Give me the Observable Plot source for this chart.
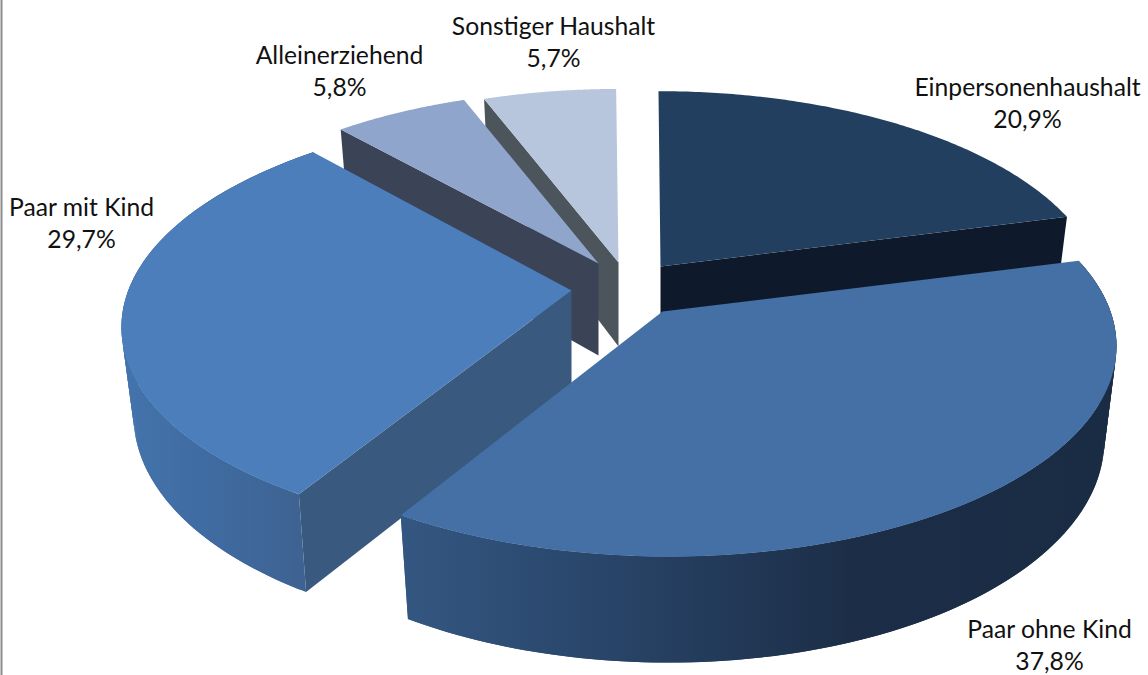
<!DOCTYPE html>
<html><head><meta charset="utf-8">
<style>html,body{margin:0;padding:0;background:#fff;overflow:hidden}svg{display:block}</style>
<script src="https://cdn.jsdelivr.net/npm/d3@7"></script>
<script src="https://cdn.jsdelivr.net/npm/@observablehq/plot@0.6"></script>
</head><body><div id="chart"></div>
<script>
// Data, clockwise from twelve o'clock
const categories = ["Einpersonenhaushalt","Paar ohne Kind","Paar mit Kind","Alleinerziehend","Sonstiger Haushalt"];
const shares = [20.9,37.8,29.7,5.8,5.7];

// Layout of each exploded slice: apex position, radius factor, extrusion depth, lean
const apexX = [660,662,571,598,618];
const ellipseX = [662,665,572,598,618];
const apexY = [266,311,290,263,262];
const radius = [0.98,1,1,0.97,0.97];
const depth = [90,92,86,92,84];
const apexDepth = [90,92,95,92,84];
const lean = [4,3,-8,0,0];
const topColors = ["#233f60","#4570a6","#4b7eba","#8fa5cc","#b8c6dd"];
const faceColors = ["#0e1a2b","#1a2c44","#39597f","#3b4356","#4c545c"];
const rimGradients = {
  ohne:[[400,"#345781"],[500,"#2e4e76"],[700,"#243c5c"],[850,"#1c2e47"],[1116,"#1a2c44"]],
  mit:[[122,"#4474ac"],[200,"#3f6ca2"],[310,"#3e6291"]]
};
const labelX = [1027,1049,81,339,553];
const labelY = [101,643,221,69,40];
const drawOrder = [0,4,3,2,1];

// Perspective pie geometry
const A = 451, B = 212, C = 0.156, K = Math.sqrt(1 - C * C), BASE = 0.973;
const ends = Array.from(d3.cumsum(shares));
const turn = p => p / 100 * 2 * Math.PI;
const rimPoint = (i, t, low) => {
  const u = Math.sin(t), v = Math.cos(t), w = 1 + C * v;
  const X = u * K / w, Y = -(v + C) / w;
  const r = radius[i];
  if (!low) return {x: ellipseX[i] + r * A * X + lean[i] * Y, y: apexY[i] + r * B * (Y + C)};
  return {x: ellipseX[i] + r * A * X * BASE + lean[i] * Y, y: apexY[i] + r * B * (Y + C) + depth[i] + 2 + 12 * r * Y};
};
const arc = (i, t0, t1, low) => d3.range(0, 121).map(k => rimPoint(i, t0 + (t1 - t0) * k / 120, low));
const apexTop = i => ({x: apexX[i], y: apexY[i]});
const apexLow = i => ({x: apexX[i], y: apexY[i] + apexDepth[i]});

// Rim as overlapping quads so that the silhouette between top and base is filled
const rimQuads = (i, t0, t1) => {
  const a = arc(i, t0, t1, false), b = arc(i, t0, t1, true), out = [];
  for (let k = 0; k < a.length - 1; ++k) {
    const n = Math.min(k + 2, a.length - 1);
    for (const p of [a[k], a[n], b[n], b[k]]) out.push({...p, q: k});
  }
  return out;
};

const marks = [];
for (const i of drawOrder) {
  const t0 = turn(i ? ends[i - 1] : 0), t1 = turn(ends[i]);
  if (i !== 1) {
    const t = i === 0 ? t1 : t0;
    const pts = [apexTop(i), rimPoint(i, t, false), rimPoint(i, t, true), apexLow(i)];
    marks.push(Plot.line(pts, {x: "x", y: "y", fill: faceColors[i], stroke: "none", curve: "linear-closed"}));
  }
  if (i === 1 || i === 2) {
    const id = i === 1 ? "url(#rim-ohne)" : "url(#rim-mit)";
    marks.push(Plot.line(rimQuads(i, t0, t1), {x: "x", y: "y", z: "q", fill: id, stroke: "none", curve: "linear-closed"}));
  }
  marks.push(Plot.line([apexTop(i), ...arc(i, t0, t1, false)], {x: "x", y: "y", fill: topColors[i], stroke: "none", curve: "linear-closed"}));
}

const gradientDefs = () => {
  const defs = d3.create("svg:defs");
  for (const [name, stops] of Object.entries(rimGradients)) {
    const x0 = stops[0][0], x1 = stops[stops.length - 1][0];
    const g = defs.append("linearGradient").attr("id", "rim-" + name)
      .attr("gradientUnits", "userSpaceOnUse")
      .attr("x1", x0).attr("x2", x1).attr("y1", 0).attr("y2", 0);
    for (const [x, c] of stops) g.append("stop").attr("offset", (x - x0) / (x1 - x0)).attr("stop-color", c);
  }
  return defs.node();
};

const labels = categories.map((name, i) => ({
  text: name + "\n" + shares[i].toFixed(1).replace(".", ",") + "%", x: labelX[i], y: labelY[i]
}));

const chart = Plot.plot({
  width: 1148, height: 675, margin: 0,
  x: {domain: [0, 1148], axis: null},
  y: {domain: [675, 0], axis: null},
  style: {background: "#fff"},
  marks: [
    gradientDefs,
    Plot.ruleX([1], {stroke: "#8c8c8c", strokeWidth: 2}),
    ...marks,
    Plot.text(labels, {x: "x", y: "y", text: "text", fontFamily: "Lato", fontSize: 24.7, lineHeight: 1.3, fill: "#111", textAnchor: "middle"})
  ]
});
document.getElementById("chart").appendChild(chart);
</script></body></html>
